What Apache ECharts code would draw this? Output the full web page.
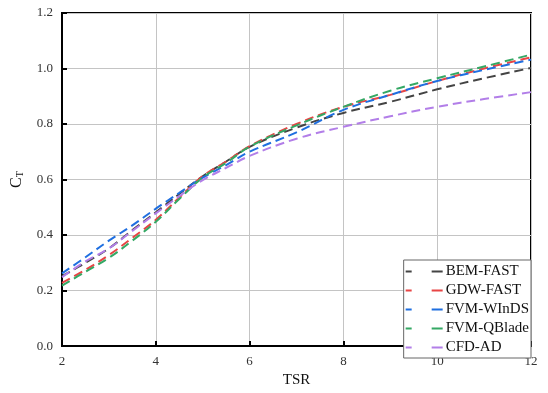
<!DOCTYPE html>
<html><head><meta charset="utf-8">
<script src="https://cdn.jsdelivr.net/npm/echarts@6/dist/echarts.min.js"></script>
<style>html,body{margin:0;padding:0;background:#fff}#c{width:548px;height:393px}</style>
</head><body><div id="c"></div>
<script>
var tsr = [2, 2.5, 3, 3.5, 4, 4.5, 5, 5.5, 6, 7, 8, 9, 10, 11, 12];
var bemFast = [0.252, 0.300, 0.352, 0.418, 0.482, 0.548, 0.612, 0.665, 0.718, 0.787, 0.840, 0.880, 0.925, 0.965, 1.002];
var gdwFast = [0.228, 0.275, 0.328, 0.390, 0.455, 0.535, 0.612, 0.665, 0.720, 0.800, 0.862, 0.905, 0.955, 1.000, 1.040];
var fvmWinds = [0.262, 0.320, 0.380, 0.435, 0.495, 0.552, 0.607, 0.652, 0.700, 0.770, 0.851, 0.905, 0.955, 0.995, 1.032];
var fvmQblade = [0.218, 0.268, 0.318, 0.380, 0.448, 0.530, 0.607, 0.660, 0.718, 0.795, 0.862, 0.920, 0.965, 1.007, 1.050];
var cfdAd = [0.248, 0.305, 0.352, 0.415, 0.478, 0.540, 0.598, 0.642, 0.685, 0.747, 0.790, 0.828, 0.862, 0.890, 0.915];
var names = ['BEM-FAST', 'GDW-FAST', 'FVM-WInDS', 'FVM-QBlade', 'CFD-AD'];
var colors = ['#444444', '#e84545', '#1f6fe0', '#34a864', '#b27ee8'];
var values = [bemFast, gdwFast, fvmWinds, fvmQblade, cfdAd];

var serif = 'Liberation Serif';
var chart = echarts.init(document.getElementById('c'));
var series = values.map(function (v, i) {
  return {
    name: names[i], type: 'line', smooth: 0.4, symbol: 'none',
    data: tsr.map(function (t, j) { return [t, v[j]]; }),
    lineStyle: { color: colors[i], width: 2, type: [9, 5] },
    itemStyle: { color: colors[i] },
    z: 2
  };
});
var dashIcon = 'path://M0,0H6V2H0Z M26,0H37V2H26Z';
chart.setOption({
  animation: false,
  grid: { left: 62, right: 17, top: 13, bottom: 35, show: true, borderColor: '#000', borderWidth: 2 },
  xAxis: {
    type: 'value', min: 2, max: 12, interval: 2,
    name: 'TSR', nameLocation: 'middle', nameGap: 26,
    nameTextStyle: { fontFamily: serif, fontSize: 15, color: '#111' },
    axisLine: { lineStyle: { color: '#000', width: 2 } },
    axisTick: { inside: true, length: 5, lineStyle: { color: '#000', width: 2 } },
    axisLabel: { fontFamily: serif, fontSize: 13, color: '#333', margin: 9 },
    splitLine: { lineStyle: { color: '#c4c4c4', width: 1 } }
  },
  yAxis: {
    type: 'value', min: 0, max: 1.2, interval: 0.2,
    name: '{a|C}{b|T}', nameLocation: 'middle', nameGap: 36, nameRotate: 90,
    nameTextStyle: { rich: {
      a: { fontFamily: serif, fontSize: 16, color: '#111' },
      b: { fontFamily: serif, fontSize: 10, color: '#111', padding: [8, 0, 0, 0] }
    } },
    axisLine: { lineStyle: { color: '#000', width: 2 } },
    axisTick: { inside: true, length: 5, lineStyle: { color: '#000', width: 2 } },
    axisLabel: { fontFamily: serif, fontSize: 13, color: '#333', margin: 9,
      formatter: function (v) { return v.toFixed(1); } },
    splitLine: { lineStyle: { color: '#c4c4c4', width: 1 } }
  },
  legend: {
    orient: 'vertical', right: 17, bottom: 35,
    backgroundColor: '#fff', borderColor: '#666', borderWidth: 1, borderRadius: 0,
    padding: [4, 2, 3, 2], itemGap: 4, itemWidth: 37, itemHeight: 15,
    textStyle: { fontFamily: serif, fontSize: 15, color: '#111', padding: [0, 0, 0, -2] },
    data: names.map(function (n, i) {
      return { name: n, icon: dashIcon, itemStyle: { color: colors[i] } };
    })
  },
  series: series
});
</script></body></html>
